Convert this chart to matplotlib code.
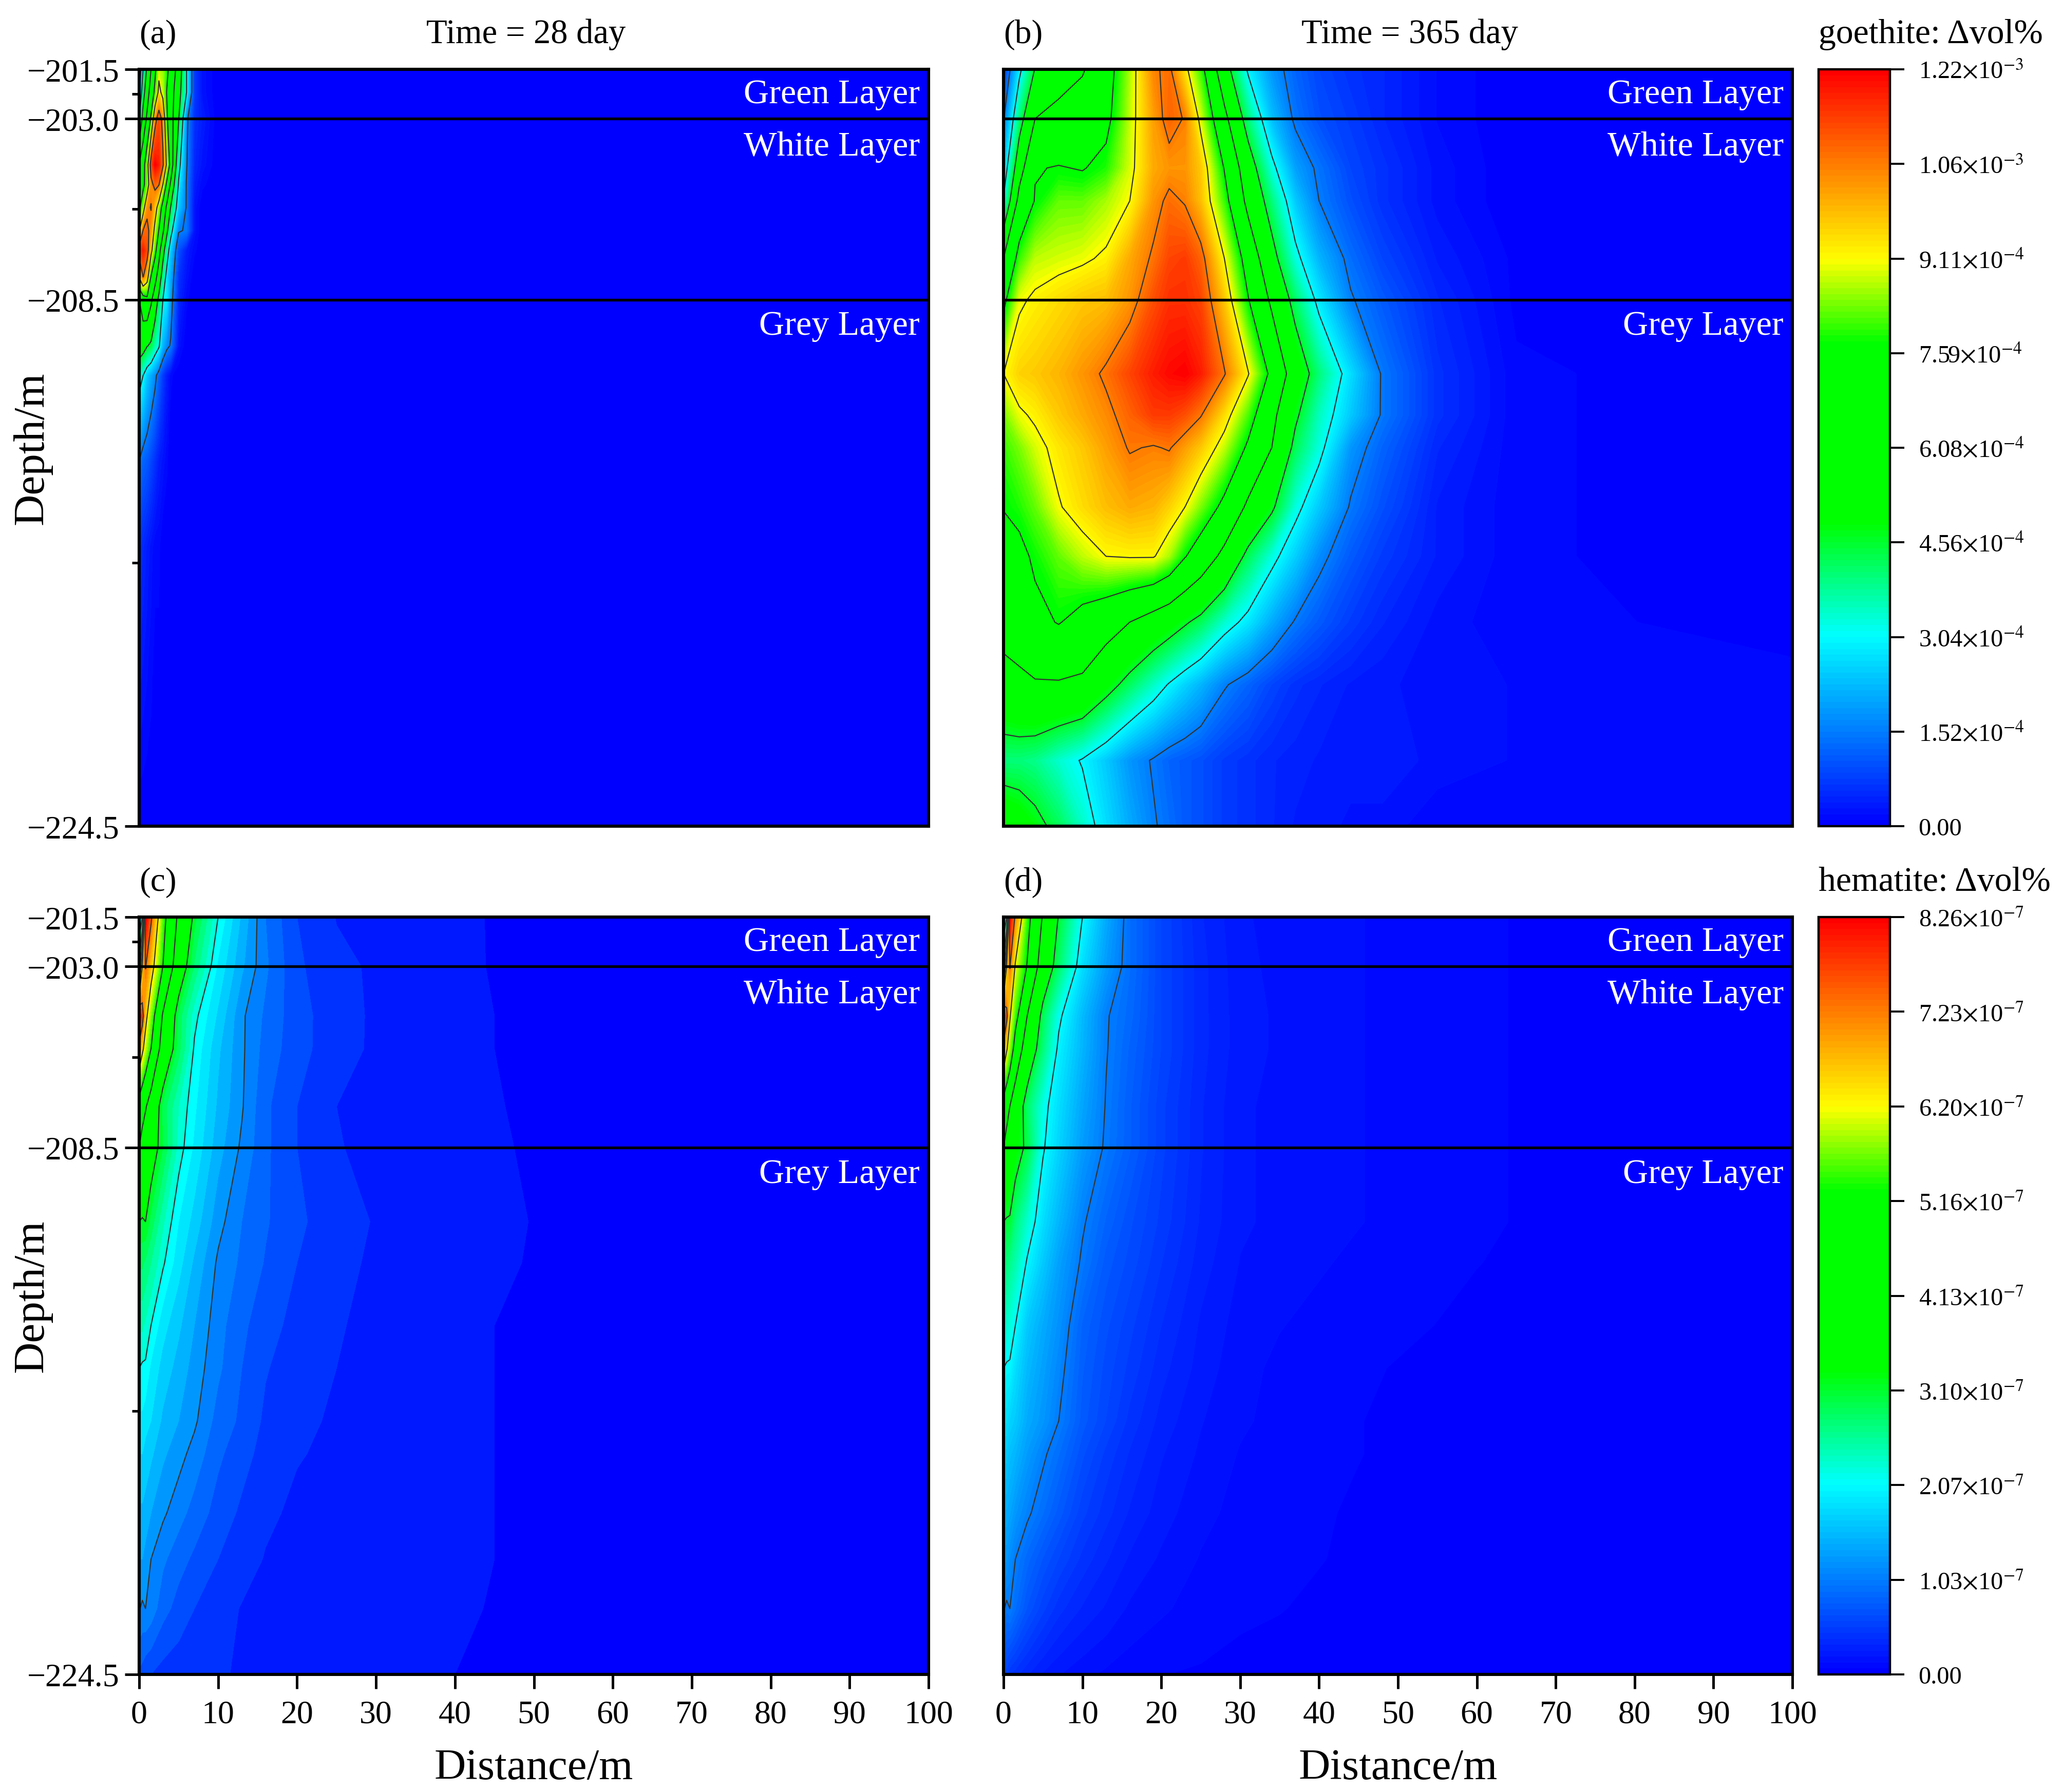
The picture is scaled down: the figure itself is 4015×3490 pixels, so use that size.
import numpy as np
import matplotlib
matplotlib.use('Agg')
import matplotlib.pyplot as plt
from matplotlib.colors import LinearSegmentedColormap

plt.rcParams['font.family'] = ['Liberation Serif', 'DejaVu Serif']
plt.rcParams['mathtext.fontset'] = 'stix'

goethite_max = 1.22e-3
hematite_max = 8.26e-7

goethite_ticks = ['0.00', r'1.52$\times$10$^{-4}$', r'3.04$\times$10$^{-4}$', r'4.56$\times$10$^{-4}$',
                  r'6.08$\times$10$^{-4}$', r'7.59$\times$10$^{-4}$', r'9.11$\times$10$^{-4}$',
                  r'1.06$\times$10$^{-3}$', r'1.22$\times$10$^{-3}$']
hematite_ticks = ['0.00', r'1.03$\times$10$^{-7}$', r'2.07$\times$10$^{-7}$', r'3.10$\times$10$^{-7}$',
                  r'4.13$\times$10$^{-7}$', r'5.16$\times$10$^{-7}$', r'6.20$\times$10$^{-7}$',
                  r'7.23$\times$10$^{-7}$', r'8.26$\times$10$^{-7}$']

# (a) goethite, 28 day
dist_a = [0, 0.5, 1, 1.5, 2, 2.5, 3, 3.5, 4, 5, 6, 7, 8, 10, 100]
depth_a = [-201.5, -202.2, -203, -204.4, -205, -205.7, -206.4, -207, -207.8, -208.5, -209.9, -210.8, -213.4, -216, -224.5]
vals_a = [
    [4, 25, 40, 50, 60, 72, 70, 65, 58, 45, 25, 6, 2, 0, 0],
    [12, 33, 45, 55, 65, 78, 72, 62, 55, 42, 25, 6, 2, 0, 0],
    [25, 42, 52, 64, 84, 92, 85, 64, 55, 38, 14, 5, 3, 0, 0],
    [50, 58, 70, 92, 100, 97, 89, 73, 58, 28, 13, 4, 2, 0, 0],
    [55, 60, 68, 85, 90, 88, 75, 60, 48, 24, 12, 3, 1, 0, 0],
    [60, 70, 85, 88, 80, 70, 58, 48, 37, 20, 12, 2, 0, 0, 0],
    [74, 88, 90, 84, 72, 62, 52, 40, 28, 13, 12, 2, 0, 0, 0],
    [92, 97, 92, 78, 66, 54, 42, 30, 20, 8, 3, 1, 0, 0, 0],
    [76, 88, 80, 62, 54, 45, 32, 22, 17, 5, 2, 0, 0, 0, 0],
    [50, 57, 60, 52, 44, 35, 25, 23, 15, 4, 1, 0, 0, 0, 0],
    [45, 42, 38, 36, 30, 26, 18, 14, 12, 2, 0, 0, 0, 0, 0],
    [28, 25, 20, 17, 14, 10, 6, 3, 1, 0, 0, 0, 0, 0, 0],
    [12.5, 10, 9, 7, 5, 3, 2, 1, 0, 0, 0, 0, 0, 0, 0],
    [5, 4, 3, 2, 1, 1, 0, 0, 0, 0, 0, 0, 0, 0, 0],
    [0, 0, 0, 0, 0, 0, 0, 0, 0, 0, 0, 0, 0, 0, 0],
]

# (b) goethite, 365 day
dist_b = [0, 2, 4, 7, 10, 13, 16, 19, 21, 23, 25, 28, 31, 34, 37, 40, 44, 48, 55, 65, 100]
depth_b = [-201.5, -203, -204.5, -205.5, -207.25, -208.5, -210.75, -212, -213, -214.8, -216.3, -218.3, -220.2, -222.5, -224.5]
vals_b = [
    [5, 23, 38, 44, 49, 58, 71, 86.5, 89, 77, 66, 42, 24, 15, 10, 7, 5, 4, 1.5, 0, 0],
    [12, 33, 50, 54, 56, 60, 72, 84, 90, 87, 73, 53, 33, 19, 11.5, 8, 6, 4, 1.5, 0, 0],
    [19, 45, 62, 63, 62, 65, 73, 83, 85, 85, 80, 62, 43, 27, 16, 11.5, 7, 5, 2, 0, 0],
    [26, 54, 63, 68, 68, 71, 75, 85, 89, 87, 81, 66, 47, 33, 20, 12.5, 8, 5, 2, 0, 0],
    [50, 66, 72, 73, 74, 76, 83, 88.5, 93, 94, 90, 75, 58, 41, 27, 18, 11, 7, 3, 0.5, 0],
    [60, 74, 76, 78, 80, 81, 85, 92, 95, 95, 93, 80, 63, 48, 34, 23, 13, 9, 4, 0.5, 0],
    [75, 79, 80, 82, 85, 88.5, 93, 97, 99, 100, 97, 88, 75.5, 60, 44, 33, 22, 12, 5, 1, 0],
    [69, 74, 76, 80, 83, 86, 90, 94, 94, 92, 88, 78, 67, 53, 39, 29, 20, 12, 5, 1, 0],
    [66, 69, 73, 77, 80, 84, 88, 87, 88, 84, 80, 72, 61, 50, 35, 27, 15, 10, 4, 1, 0],
    [63, 65, 68, 74.5, 78, 81, 83, 82, 79, 75, 69, 60, 48, 39, 27, 20, 12, 8, 3, 1, 0],
    [57, 60, 64, 68, 72, 75, 75.5, 75.5, 71, 63, 57, 47, 35, 27, 20.5, 14, 9, 6, 3, 1, 0],
    [54, 56, 60, 63, 59, 55, 50, 45, 42, 38.5, 35, 28, 23, 17, 12, 9, 6, 4, 2, 1, 0.5],
    [46, 47.5, 49, 49, 48, 41, 34.5, 28.5, 24.5, 21, 18, 13, 10, 7, 5, 4, 3, 2.5, 2, 1.5, 1],
    [33, 33, 32, 28, 24.5, 20, 15, 12, 10, 9, 8, 6, 5, 4, 3.5, 3, 3, 3, 2, 1.5, 1],
    [45, 43, 40, 35, 28.5, 22, 17, 13, 11, 9, 8, 6, 5, 4, 3, 3, 2, 2, 1, 1, 1],
]

# (c) and (d) hematite share one grid
dist_cd = [0, 0.4, 0.8, 1.5, 3, 5, 7, 10, 13, 16, 20, 25, 30, 35, 45, 60, 80, 100]
depth_cd = [-201.5, -203, -204.5, -205.5, -207.25, -208.5, -210.75, -212, -213.9, -215.2, -216.8, -217.8, -219.6, -221, -222.5, -224.5]
vals_c = [
    [15, 25, 100, 89, 66, 48, 36, 25, 17, 10, 5, 2.4, 2, 1.7, 0.9, 0.4, 0.2, 0],
    [40, 75, 88, 79, 62.5, 43, 32, 22, 15.5, 10.5, 5.5, 3, 2.2, 1.8, 0.9, 0.4, 0.2, 0],
    [100, 92, 78, 68, 49, 34, 26, 19.5, 13, 9.5, 6, 3.5, 2.1, 1.8, 1, 0.5, 0.2, 0],
    [84, 77, 71, 62.5, 45, 33.5, 24.5, 18, 13, 9, 6, 3.4, 2.1, 1.8, 1, 0.5, 0.2, 0],
    [58, 54, 51, 45, 34, 27.5, 23, 17, 12.8, 8, 5, 2.5, 2, 1.8, 1.05, 0.5, 0.3, 0],
    [50, 46, 43, 41, 35, 26.5, 22, 16, 12, 8, 5, 2.6, 2.1, 1.8, 1.1, 0.5, 0.3, 0],
    [37.5, 37, 37.5, 34, 28, 22.5, 19, 13.5, 10, 7.8, 5.5, 3.6, 2.3, 2, 1.2, 0.5, 0.3, 0],
    [33, 33, 32, 30, 25.5, 21, 17, 12, 9.5, 7.3, 5, 3, 2.2, 2, 1.15, 0.5, 0.3, 0],
    [28, 28, 27, 25, 21, 18, 15, 11, 8, 6.2, 4, 2.6, 2.2, 1.9, 1, 0.5, 0.2, 0],
    [25, 24.5, 24.5, 22, 19, 16.5, 14, 10.5, 7.5, 5.2, 3.6, 2.5, 2.1, 1.8, 1, 0.5, 0.2, 0],
    [22, 22, 21, 20, 17, 15, 13, 9, 7, 4.5, 3, 2.2, 2, 1.8, 1, 0.5, 0.2, 0],
    [20, 20, 19, 18, 15.5, 13.5, 11.5, 8, 6, 4, 2.6, 2.2, 2, 1.7, 1, 0.5, 0.2, 0],
    [17, 17, 16.5, 15, 13, 11, 9, 6.5, 4.5, 2.8, 2.2, 2, 1.8, 1.6, 1, 0.5, 0.2, 0],
    [15, 15, 14, 12.5, 10.5, 8.5, 7, 5, 3.2, 2.4, 2, 1.8, 1.6, 1.5, 1, 0.5, 0.2, 0],
    [12.7, 12, 12.5, 11.5, 8.5, 6.5, 5, 3.2, 2.4, 2, 1.7, 1.6, 1.4, 1.3, 0.95, 0.5, 0.2, 0],
    [7, 6.5, 5.5, 5, 4, 3.5, 2.8, 2.6, 2.4, 1.6, 1.5, 1.3, 1.2, 1.1, 0.9, 0.4, 0.1, 0],
]
vals_d = [
    [15, 25, 100, 86, 66, 49, 37, 25, 17, 11, 7, 4, 2.5, 2, 1.6, 0.9, 0.3, 0],
    [40, 75, 88, 74, 62, 44, 34, 22, 15.5, 11, 7, 4.2, 2.6, 2.1, 1.6, 0.9, 0.3, 0],
    [100, 90, 76, 66, 50, 35, 26, 18.5, 12.8, 10.5, 7, 4.2, 2.7, 2.2, 1.6, 0.9, 0.3, 0],
    [84, 76, 70, 58, 44, 33, 24, 18, 12.7, 10, 7, 4.2, 2.7, 2.2, 1.6, 0.9, 0.3, 0],
    [58, 54, 50, 44, 34, 26.5, 22, 16.5, 12.3, 9.5, 6.5, 4, 2.5, 2.1, 1.6, 0.9, 0.3, 0],
    [50, 46, 43, 41, 36, 25.5, 21, 15.5, 12, 9.5, 6.5, 4, 2.5, 2.1, 1.6, 0.9, 0.3, 0],
    [37.5, 37, 37, 33, 28, 22, 18, 12.9, 10, 8, 6, 3.8, 2.5, 2.1, 1.6, 0.9, 0.3, 0],
    [33, 33, 32, 30, 24.5, 20, 16, 12, 9, 7.5, 5.5, 3.5, 2.3, 1.9, 1.4, 0.8, 0.3, 0],
    [28, 28, 27, 25, 20, 17, 14.5, 10, 8, 6.5, 4.7, 3, 2, 1.6, 1.1, 0.6, 0.2, 0],
    [25, 24.5, 24.5, 22, 18.5, 16, 13.5, 9.5, 7.5, 6, 4.2, 2.8, 1.8, 1.4, 0.9, 0.4, 0.2, 0],
    [22, 22, 21, 20, 17, 15, 12.5, 9, 7, 5.2, 3.6, 2.4, 1.7, 1.3, 0.8, 0.4, 0.2, 0],
    [20, 20, 19, 18, 15.5, 13, 11, 8, 6, 4.6, 3.2, 2.2, 1.5, 1.2, 0.8, 0.4, 0.2, 0],
    [17, 17, 16.5, 15, 13, 11, 9, 6.5, 5, 3.8, 2.7, 1.8, 1.3, 1, 0.7, 0.4, 0.2, 0],
    [15, 15, 14, 12.5, 10.5, 8.5, 7, 5.2, 4, 3, 2.2, 1.5, 1.1, 0.9, 0.7, 0.4, 0.2, 0],
    [12.7, 12, 12.5, 11, 8.5, 6.5, 5, 3.8, 3, 2.2, 1.7, 1.2, 0.9, 0.8, 0.6, 0.4, 0.1, 0],
    [7, 6.5, 5.5, 5, 4, 3, 2.4, 1.8, 1.4, 1.1, 0.8, 0.7, 0.6, 0.6, 0.5, 0.3, 0.1, 0],
]

layer_depths = [-203.0, -208.5]
layer_names = ['Green Layer', 'White Layer', 'Grey Layer']
layer_text_y = [-202.25, -203.85, -209.3]
major_y = [-201.5, -203.0, -208.5, -224.5]
minor_y = [-202.25, -205.75, -216.5]
x_ticks = list(range(0, 101, 10))

cmap = LinearSegmentedColormap.from_list('relief', [
    (0, '#0000ff'), (0.25, '#00ffff'), (0.40, '#00ff00'), (0.64, '#00ff00'), (0.75, '#ffff00'), (1, '#ff0000')], N=512)

W, H = 4015, 3491
fig = plt.figure(figsize=(W / 400, H / 400), dpi=400)


def add_axes(x0, y0, x1, y1):
    return fig.add_axes([x0 / W, 1 - y1 / H, (x1 - x0) / W, (y1 - y0) / H])


def panel(box, dist, depth, vals, vmax, nbands, tag, left=False, bottom=False, title=None, title_x=0.49, low_edge=None):
    ax = add_axes(*box)
    z = np.array(vals) / 100 * vmax
    levels = np.linspace(0, vmax, nbands + 1)
    if low_edge:
        # panel (c) has one faint extra band below the first regular step
        levels = np.sort(np.append(levels, low_edge / 100 * vmax))
    n = len(levels) - 1
    colors = [cmap(i / (n - 1)) for i in range(n)]
    cs = ax.contourf(dist, depth, z, levels=levels, colors=colors, antialiased=False)
    ax.contour(dist, depth, z, levels=np.linspace(0, vmax, 9)[1:-1], colors='#333333', linewidths=0.4)
    for d in layer_depths:
        ax.axhline(d, color='k', lw=0.95)
    for name, y in zip(layer_names, layer_text_y):
        ax.text(98.9, y, name, color='white', ha='right', va='center', fontsize=12.3)
    ax.set_xlim(0, 100)
    ax.set_ylim(-224.5, -201.5)
    for s in ax.spines.values():
        s.set_linewidth(1.1)
    if left:
        ax.set_yticks(major_y)
        ax.set_yticklabels(['\u2212%.1f' % abs(v) for v in major_y], fontsize=11.5)
        ax.set_yticks(minor_y, minor=True)
        ax.tick_params(axis='y', which='major', length=5, width=0.9, pad=2)
        ax.tick_params(axis='y', which='minor', length=2.5, width=0.9)
        ax.set_ylabel('Depth/m', fontsize=15.3)
        ax.yaxis.set_label_coords(-0.110, 0.5)
    else:
        ax.set_yticks([])
    if bottom:
        ax.set_xticks(x_ticks)
        ax.tick_params(axis='x', length=5, width=0.9, labelsize=11.5, pad=4)
        ax.set_xlabel('Distance/m', fontsize=15.3, labelpad=6.5)
    else:
        ax.set_xticks([])
    ax.text(0.0, 1.026, tag, transform=ax.transAxes, ha='left', va='bottom', fontsize=11.8)
    if title:
        ax.text(title_x, 1.026, title, transform=ax.transAxes, ha='center', va='bottom', fontsize=12)
    return cs


def colorbar(cs, box, labels, vmax, title):
    cax = add_axes(*box)
    cb = fig.colorbar(cs, cax=cax)
    cb.set_ticks(np.linspace(0, vmax, 9))
    cb.set_ticklabels(labels)
    cb.ax.minorticks_off()
    cb.ax.tick_params(length=5, width=0.7, labelsize=8.7, pad=5)
    cb.outline.set_linewidth(0.8)
    cax.text(0, 1.026, title, transform=cax.transAxes, ha='left', va='bottom', fontsize=12.2)


xa = (271, 1808)
xb = (1954, 3490)
top = (136, 1610)
low = (1787, 3262)

panel((xa[0], top[0], xa[1], top[1]), dist_a, depth_a, vals_a, goethite_max, 128, '(a)', left=True, title='Time = 28 day')
cs_b = panel((xb[0], top[0], xb[1], top[1]), dist_b, depth_b, vals_b, goethite_max, 128, '(b)', title='Time = 365 day', title_x=0.515)
panel((xa[0], low[0], xa[1], low[1]), dist_cd, depth_cd, vals_c, hematite_max, 40, '(c)', left=True, bottom=True, low_edge=1.0)
cs_d = panel((xb[0], low[0], xb[1], low[1]), dist_cd, depth_cd, vals_d, hematite_max, 128, '(d)', bottom=True)

colorbar(cs_b, (3541, top[0], 3680, top[1]), goethite_ticks, goethite_max, 'goethite: \u0394vol%')
colorbar(cs_d, (3541, low[0], 3680, low[1]), hematite_ticks, hematite_max, 'hematite: \u0394vol%')

fig.savefig('out.png', dpi=400)
